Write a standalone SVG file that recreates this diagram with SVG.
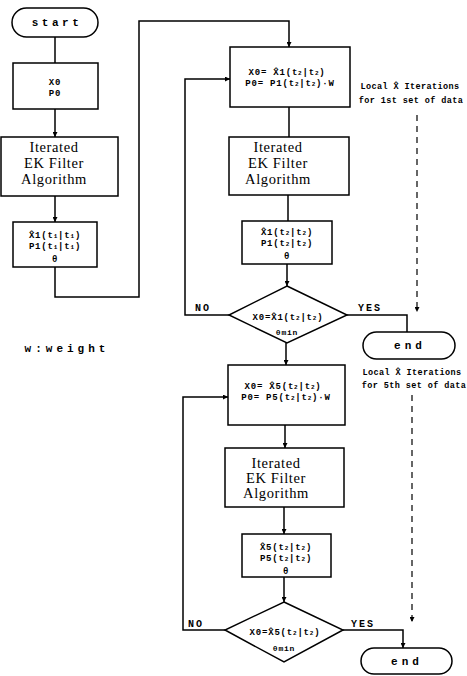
<svg xmlns="http://www.w3.org/2000/svg" width="467" height="676" viewBox="0 0 467 676">
<defs>
<marker id="ah" viewBox="0 0 6 6" refX="6" refY="3" markerWidth="5" markerHeight="5" orient="auto" markerUnits="userSpaceOnUse">
<path d="M0,0 L6,3 L0,6 z" fill="#000"/>
</marker>
<style>
.b{fill:#fff;stroke:#000;stroke-width:1.5}
.c{fill:none;stroke:#000;stroke-width:1.5}
.d{fill:none;stroke:#000;stroke-width:1.2;stroke-dasharray:6,5}
.m{font-family:"Liberation Mono","DejaVu Sans Mono",monospace;font-weight:bold;font-size:9px;fill:#000;text-anchor:middle;letter-spacing:0.8px}
.t{font-family:"Liberation Mono","DejaVu Sans Mono",monospace;font-weight:bold;font-size:11px;fill:#000;text-anchor:middle;letter-spacing:3.5px}
.a{font-family:"Liberation Mono","DejaVu Sans Mono",monospace;font-weight:bold;font-size:8.5px;fill:#000;text-anchor:middle;letter-spacing:0.4px}
.s{font-family:"Liberation Serif","DejaVu Serif",serif;font-size:14.5px;fill:#000;text-anchor:middle;letter-spacing:0.6px}
.u{font-size:6px}
</style>
</defs>
<rect width="467" height="676" fill="#fff"/>

<g id="connectors">
<path class="c" d="M55,37 V63"/>
<path class="c" d="M55,109 V137" marker-end="url(#ah)"/>
<path class="c" d="M55,196 V222" marker-end="url(#ah)"/>
<path class="c" d="M55,267 V297 H139 V21 H289 V47" marker-end="url(#ah)"/>
<path class="c" d="M289,107 V137"/>
<path class="c" d="M288,195 V221"/>
<path class="c" d="M287,264 V286" marker-end="url(#ah)"/>
<path class="c" d="M229,315 H185 V79 H230" marker-end="url(#ah)"/>
<path class="c" d="M347,315 H407 V332"/>
<path class="c" d="M286,343 V365" marker-end="url(#ah)"/>
<path class="c" d="M285,425 V448" marker-end="url(#ah)"/>
<path class="c" d="M284,507 V534" marker-end="url(#ah)"/>
<path class="c" d="M284,577 V602" marker-end="url(#ah)"/>
<path class="c" d="M225,630 H183 V397 H228" marker-end="url(#ah)"/>
<path class="c" d="M343,630 H403 V648" marker-end="url(#ah)"/>
<path class="d" d="M417,115 V312" marker-end="url(#ah)"/>
<path class="d" d="M412,395 V622" marker-end="url(#ah)"/>
<text class="m" x="203" y="311" style="font-size:10px;letter-spacing:2px">NO</text>
<text class="m" x="370" y="311" style="font-size:10px;letter-spacing:2px">YES</text>
<text class="m" x="196" y="627" style="font-size:10px;letter-spacing:2px">NO</text>
<text class="m" x="363" y="627" style="font-size:10px;letter-spacing:2px">YES</text>
</g>

<g id="start">
<rect class="b" x="12" y="8" width="86" height="29" rx="14.5"/>
<text class="t" x="57" y="26">start</text>
</g>

<g id="init">
<rect class="b" x="13" y="63" width="85" height="46"/>
<text class="m" x="55" y="85">X0</text>
<text class="m" x="55" y="96">P0</text>
</g>

<g id="ekf0">
<rect class="b" x="1" y="137" width="117" height="59"/>
<text class="s" x="54" y="152">Iterated</text>
<text class="s" x="54" y="168">EK Filter</text>
<text class="s" x="54" y="184">Algorithm</text>
</g>

<g id="res0">
<rect class="b" x="13" y="222" width="84" height="45"/>
<text class="m" x="55" y="238">X̂1(t<tspan class="u">1</tspan>|t<tspan class="u">1</tspan>)</text>
<text class="m" x="55" y="249">P1(t<tspan class="u">1</tspan>|t<tspan class="u">1</tspan>)</text>
<text class="m" x="55" y="262">θ</text>
</g>

<g id="weight">
<text class="t" x="67" y="352" style="letter-spacing:4px">w:weight</text>
</g>

<g id="init1">
<rect class="b" x="230" y="47" width="120" height="60"/>
<text class="m" x="287" y="75">X0= X̂1(t<tspan class="u">2</tspan>|t<tspan class="u">2</tspan>)</text>
<text class="m" x="290" y="86">P0= P1(t<tspan class="u">2</tspan>|t<tspan class="u">2</tspan>)·W</text>
</g>

<g id="ekf1">
<rect class="b" x="229" y="137" width="120" height="58"/>
<text class="s" x="278" y="152">Iterated</text>
<text class="s" x="278" y="168">EK Filter</text>
<text class="s" x="278" y="184">Algorithm</text>
</g>

<g id="res1">
<rect class="b" x="242" y="221" width="90" height="43"/>
<text class="m" x="287" y="235">X̂1(t<tspan class="u">2</tspan>|t<tspan class="u">2</tspan>)</text>
<text class="m" x="287" y="246">P1(t<tspan class="u">2</tspan>|t<tspan class="u">2</tspan>)</text>
<text class="m" x="287" y="259">θ</text>
</g>

<g id="dec1">
<polygon class="b" points="287,286 347,315 287,343 229,315"/>
<text class="m" x="288" y="320">X0=X̂1(t<tspan class="u">2</tspan>|t<tspan class="u">2</tspan>)</text>
<text class="m" x="287" y="335" style="font-size:8px">θmin</text>
</g>

<g id="end1">
<rect class="b" x="363" y="332" width="92" height="27" rx="13.5"/>
<text class="t" x="410" y="349" style="letter-spacing:4px">end</text>
</g>

<g id="note1">
<text class="a" x="410" y="89">Local X̂ Iterations</text>
<text class="a" x="411" y="103">for 1st set of data</text>
</g>

<g id="note5">
<text class="a" x="412" y="375">Local X̂ Iterations</text>
<text class="a" x="414" y="388">for 5th set of data</text>
</g>

<g id="init5">
<rect class="b" x="228" y="365" width="117" height="60"/>
<text class="m" x="283" y="389">X0= X̂5(t<tspan class="u">2</tspan>|t<tspan class="u">2</tspan>)</text>
<text class="m" x="286" y="400">P0= P5(t<tspan class="u">2</tspan>|t<tspan class="u">2</tspan>)·W</text>
</g>

<g id="ekf5">
<rect class="b" x="225" y="448" width="119" height="59"/>
<text class="s" x="276" y="468">Iterated</text>
<text class="s" x="276" y="483">EK Filter</text>
<text class="s" x="276" y="498">Algorithm</text>
</g>

<g id="res5">
<rect class="b" x="242" y="534" width="89" height="43"/>
<text class="m" x="286" y="550">X̂5(t<tspan class="u">2</tspan>|t<tspan class="u">2</tspan>)</text>
<text class="m" x="286" y="561">P5(t<tspan class="u">2</tspan>|t<tspan class="u">2</tspan>)</text>
<text class="m" x="286" y="574">θ</text>
</g>

<g id="dec5">
<polygon class="b" points="284,602 343,630 284,662 225,630"/>
<text class="m" x="285" y="635">X0=X̂5(t<tspan class="u">2</tspan>|t<tspan class="u">2</tspan>)</text>
<text class="m" x="284" y="651" style="font-size:8px">θmin</text>
</g>

<g id="end5">
<rect class="b" x="361" y="648" width="91" height="26" rx="13"/>
<text class="t" x="407" y="665" style="letter-spacing:4px">end</text>
</g>
</svg>
